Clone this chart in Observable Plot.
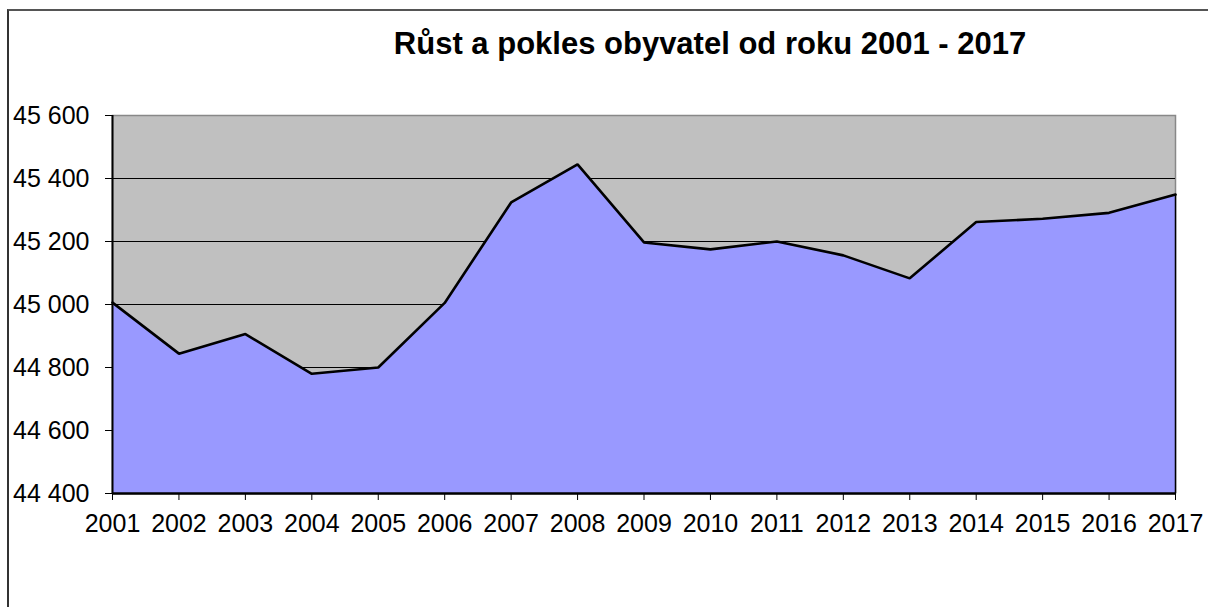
<!DOCTYPE html>
<html>
<head>
<meta charset="utf-8">
<script src="https://cdn.jsdelivr.net/npm/d3@7"></script>
<script src="https://cdn.jsdelivr.net/npm/@observablehq/plot@0.6"></script>
<style>
  html, body { margin: 0; padding: 0; background: #fff; }
  #wrap { position: relative; width: 1208px; height: 607px; overflow: hidden; font-family: "Liberation Sans", Arial, sans-serif; }
  #border { position: absolute; left: 7px; top: 9px; width: 1300px; height: 700px; border-left: 2px solid #333; border-top: 2px solid #555; box-sizing: border-box; }
  #title { position: absolute; left: 0; width: 1420px; top: 29px; text-align: center; font-size: 31px; line-height: 30px; font-weight: bold; color: #000; }
  #chart { position: absolute; left: 0; top: 0; }
</style>
</head>
<body>
<div id="wrap">
  <div id="border"></div>
  <div id="chart"></div>
  <div id="title">Růst a pokles obyvatel od roku 2001 - 2017</div>
</div>
<script>
const years = [2001, 2002, 2003, 2004, 2005, 2006, 2007, 2008, 2009, 2010, 2011, 2012, 2013, 2014, 2015, 2016, 2017];
const population = [45006, 44844, 44906, 44780, 44800, 45005, 45324, 45445, 45197, 45175, 45200, 45156, 45083, 45262, 45272, 45291, 45349];
const yTicks = [44400, 44600, 44800, 45000, 45200, 45400, 45600];
const gridTicks = [44600, 44800, 45000, 45200, 45400];

const data = years.map((year, i) => ({year, value: population[i]}));
const locale = d3.formatLocale({decimal: ",", thousands: " ", grouping: [3], currency: ["", ""]});
const fmt = locale.format(",");

const chart = Plot.plot({
  width: 1208,
  height: 607,
  marginLeft: 112,
  marginRight: 33,
  marginTop: 115,
  marginBottom: 114,
  style: {fontFamily: "'Liberation Sans', Arial, sans-serif", fontSize: "25px", color: "#000", background: "transparent"},
  x: {type: "linear", domain: [2001, 2017]},
  y: {domain: [44400, 45600]},
  marks: [
    Plot.frame({fill: "#c0c0c0", stroke: "#888", strokeWidth: 1.5}),
    Plot.ruleY(gridTicks, {stroke: "#000", strokeWidth: 1}),
    Plot.areaY(data, {x: "year", y1: 44400, y2: "value", fill: "#9999ff"}),
    Plot.line(data, {x: "year", y: "value", stroke: "#000", strokeWidth: 2.6, strokeLinejoin: "miter"}),
    Plot.ruleX([2001], {stroke: "#000", strokeWidth: 2}),
    Plot.ruleX([2017], {stroke: "#000", strokeWidth: 1.5, y1: 44400, y2: 45349}),
    Plot.ruleY([44400], {stroke: "#000", strokeWidth: 2.5}),
    Plot.axisY({ticks: yTicks, tickFormat: fmt, tickSize: 7, tickPadding: 16, fontSize: 25, label: null, stroke: "#000"}),
    Plot.axisX({ticks: years, tickFormat: d => String(d), tickSize: 7, tickPadding: 14, fontSize: 25, label: null, stroke: "#000"})
  ]
});
document.getElementById("chart").appendChild(chart);
</script>
</body>
</html>
